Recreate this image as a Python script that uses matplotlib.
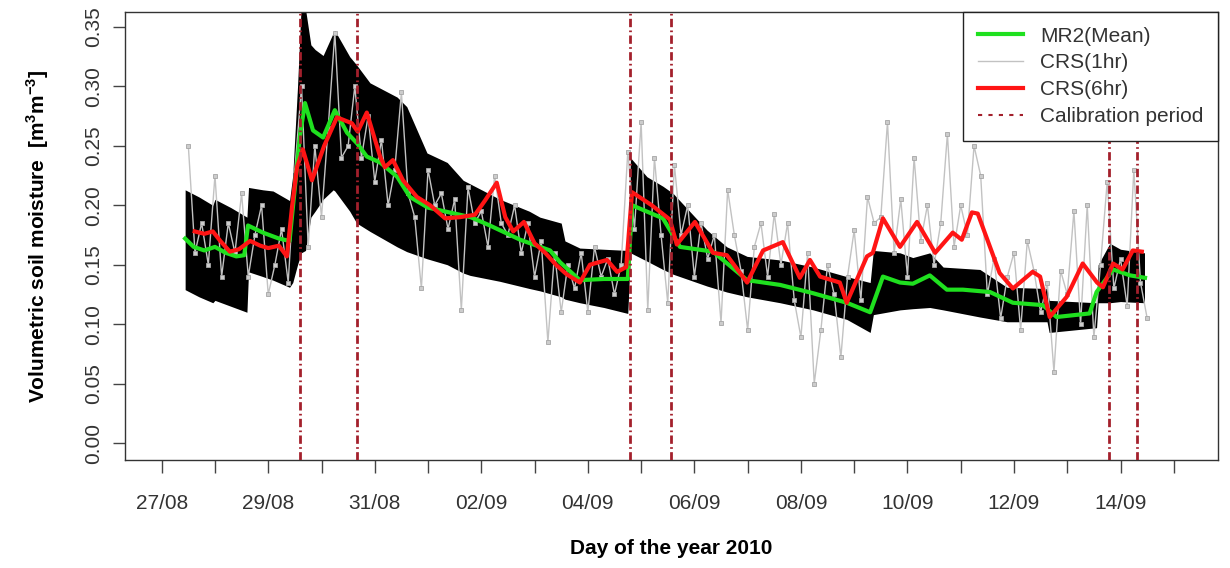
import numpy as np
import matplotlib
matplotlib.use("Agg")
import matplotlib.pyplot as plt
from matplotlib.lines import Line2D

plt.rcParams['font.family'] = ['Liberation Sans', 'DejaVu Sans']
plt.rcParams['mathtext.fontset'] = 'custom'
plt.rcParams['mathtext.rm'] = 'Liberation Sans'
plt.rcParams['mathtext.bf'] = 'Liberation Sans:bold'

# x values are days since 27/08/2010 00:00
tick_days = list(range(20))
tick_labels = ['27/08', '', '29/08', '', '31/08', '', '02/09', '', '04/09', '',
               '06/09', '', '08/09', '', '10/09', '', '12/09', '', '14/09', '']
y_ticks = [0.00, 0.05, 0.10, 0.15, 0.20, 0.25, 0.30, 0.35]

calib_days = [2.60, 3.66, 8.79, 9.57, 17.78, 18.30]

# MR2 sensor range (black band), jumps where a new sensor set starts
band_days = [0.44, 0.70, 0.96, 1.00, 1.30, 1.60,
             1.63, 1.90, 2.09, 2.40, 2.46, 2.55, 2.62, 2.70, 2.80, 2.88, 3.03, 3.22, 3.25,
             3.53, 3.66, 3.91, 4.42, 4.60, 4.98, 5.36, 5.66, 5.79, 6.35, 6.90, 7.10, 7.50,
             7.57, 7.85, 8.30, 8.75,
             8.80, 9.11, 9.41, 9.60, 10.24, 10.61, 10.99, 11.61, 12.23, 12.86, 13.30,
             13.36, 13.86, 14.10, 14.42, 14.67, 15.36, 15.87, 16.62,
             16.66, 17.55,
             17.58, 17.80, 18.00, 18.45]
band_hi = [0.213, 0.207, 0.200, 0.205, 0.198, 0.190,
           0.215, 0.213, 0.212, 0.204, 0.225, 0.300, 0.370, 0.365, 0.335, 0.331, 0.326, 0.345, 0.347,
           0.325, 0.318, 0.303, 0.291, 0.283, 0.244, 0.236, 0.221, 0.218, 0.205, 0.195, 0.190, 0.185,
           0.170, 0.164, 0.163, 0.162,
           0.240, 0.224, 0.216, 0.210, 0.179, 0.165, 0.157, 0.154, 0.148, 0.140, 0.135,
           0.162, 0.160, 0.156, 0.160, 0.148, 0.146, 0.131, 0.130,
           0.120, 0.118,
           0.150, 0.168, 0.163, 0.160]
band_lo = [0.129, 0.123, 0.118, 0.120, 0.115, 0.110,
           0.144, 0.140, 0.137, 0.131, 0.135, 0.150, 0.160, 0.162, 0.190, 0.195, 0.205, 0.213, 0.212,
           0.195, 0.185, 0.178, 0.165, 0.161, 0.155, 0.150, 0.143, 0.141, 0.136, 0.130, 0.128, 0.123,
           0.121, 0.118, 0.114, 0.109,
           0.160, 0.153, 0.146, 0.142, 0.132, 0.127, 0.123, 0.118, 0.112, 0.104, 0.093,
           0.108, 0.112, 0.113, 0.114, 0.112, 0.106, 0.102, 0.102,
           0.093, 0.097,
           0.118, 0.118, 0.119, 0.118]

# MR2 mean
mean_days = [0.44, 0.60, 0.80, 1.00, 1.20, 1.40, 1.55, 1.62, 1.90, 2.20, 2.40, 2.50, 2.60,
             2.69, 2.84, 3.03, 3.25, 3.48, 3.67, 3.85, 4.10, 4.42, 4.66, 5.00, 5.30, 5.80,
             6.16, 6.73, 7.29, 7.48, 7.85, 8.30, 8.75, 8.83, 9.41, 9.73, 10.35, 10.99, 11.61,
             12.23, 12.86, 13.30, 13.54, 13.86, 14.10, 14.42, 14.74, 15.04, 15.55, 15.98,
             16.54, 16.80, 17.42, 17.55, 17.86, 18.18, 18.46]
mean_vals = [0.172, 0.165, 0.162, 0.165, 0.160, 0.157, 0.158, 0.183, 0.177, 0.172, 0.170, 0.215, 0.260,
             0.286, 0.263, 0.257, 0.280, 0.261, 0.252, 0.241, 0.236, 0.224, 0.207, 0.198, 0.195, 0.190,
             0.183, 0.171, 0.162, 0.152, 0.137, 0.138, 0.138, 0.200, 0.189, 0.165, 0.161, 0.137, 0.133,
             0.126, 0.118, 0.110, 0.140, 0.135, 0.134, 0.141, 0.129, 0.129, 0.127, 0.118,
             0.116, 0.106, 0.109, 0.127, 0.146, 0.141, 0.139]

# CRS 6 hour
crs6_days = [0.62, 0.80, 0.96, 1.10, 1.28, 1.45, 1.66, 1.85, 2.00, 2.20, 2.35, 2.45, 2.54,
             2.65, 2.82, 3.05, 3.29, 3.57, 3.68, 3.85, 4.10, 4.19, 4.34, 4.53, 4.79, 5.04,
             5.32, 5.60, 5.88, 6.07, 6.29, 6.45, 6.60, 6.80, 7.00, 7.20, 7.40, 7.60, 7.85,
             8.04, 8.36, 8.55, 8.72, 8.83, 9.20, 9.54, 9.67, 10.01, 10.35, 10.61, 10.99,
             11.29, 11.66, 11.98, 12.17, 12.36, 12.73, 12.86, 13.24, 13.35, 13.54, 13.86,
             14.18, 14.52, 14.85, 15.02, 15.21, 15.32, 15.73, 15.98, 16.35, 16.49, 16.67,
             16.99, 17.29, 17.56, 17.67, 17.86, 18.04, 18.23, 18.40]
crs6_vals = [0.178, 0.176, 0.178, 0.170, 0.161, 0.163, 0.170, 0.166, 0.164, 0.166, 0.157, 0.200, 0.232,
             0.247, 0.221, 0.250, 0.274, 0.269, 0.262, 0.278, 0.241, 0.232, 0.238, 0.221, 0.207, 0.200,
             0.189, 0.190, 0.192, 0.204, 0.219, 0.190, 0.178, 0.186, 0.168, 0.160, 0.150, 0.142, 0.135,
             0.150, 0.154, 0.144, 0.148, 0.211, 0.200, 0.188, 0.167, 0.186, 0.160, 0.158, 0.135,
             0.162, 0.169, 0.139, 0.154, 0.140, 0.135, 0.118, 0.157, 0.160, 0.189, 0.165,
             0.186, 0.160, 0.177, 0.171, 0.194, 0.193, 0.143, 0.130, 0.144, 0.140, 0.106,
             0.123, 0.151, 0.135, 0.131, 0.151, 0.146, 0.162, 0.161]

# CRS 1 hour, read every 3 h from 27/08 12:00
grey_start = 0.5
grey_step = 0.125
grey_vals = [0.250, 0.160, 0.185, 0.150, 0.225, 0.140, 0.185, 0.160,
             0.210, 0.140, 0.175, 0.200, 0.125, 0.150, 0.180, 0.135,
             0.230, 0.300, 0.165, 0.250, 0.190, 0.265, 0.345, 0.240,
             0.250, 0.300, 0.240, 0.275, 0.220, 0.255, 0.200, 0.230,
             0.295, 0.210, 0.190, 0.130, 0.230, 0.200, 0.210, 0.180,
             0.205, 0.112, 0.215, 0.185, 0.195, 0.165, 0.225, 0.185,
             0.175, 0.200, 0.160, 0.185, 0.140, 0.170, 0.085, 0.160,
             0.110, 0.150, 0.130, 0.160, 0.110, 0.165, 0.140, 0.155,
             0.125, 0.150, 0.245, 0.180, 0.270, 0.112, 0.240, 0.175,
             0.118, 0.234, 0.175, 0.200, 0.140, 0.185, 0.155, 0.175,
             0.101, 0.213, 0.175, 0.145, 0.095, 0.165, 0.185, 0.140,
             0.193, 0.150, 0.185, 0.120, 0.089, 0.160, 0.050, 0.095,
             0.150, 0.125, 0.072, 0.140, 0.179, 0.120, 0.207, 0.185,
             0.190, 0.270, 0.160, 0.205, 0.140, 0.240, 0.170, 0.200,
             0.150, 0.185, 0.260, 0.165, 0.200, 0.175, 0.250, 0.225,
             0.125, 0.155, 0.105, 0.140, 0.160, 0.095, 0.170, 0.145,
             0.110, 0.135, 0.060, 0.145, 0.125, 0.195, 0.100, 0.200,
             0.089, 0.150, 0.220, 0.130, 0.155, 0.115, 0.230, 0.135,
             0.105]
grey_days = grey_start + grey_step * np.arange(len(grey_vals))

calib_color = '#a3202c'

fig = plt.figure(figsize=(12.3, 5.68), dpi=100)
ax = fig.add_axes([125/1230, 1-460/568, (1218-125)/1230, (460-12)/568])

ax.fill_between(band_days, band_lo, band_hi, color='black', lw=0, zorder=1)
ax.plot(grey_days, grey_vals, color='#c2c2c2', lw=1, marker='s', ms=3,
        mfc='#cccccc', mec='#a5a5a5', mew=0.6, zorder=2)
ax.plot(mean_days, mean_vals, color='#1fe01f', lw=3, zorder=3)
ax.plot(crs6_days, crs6_vals, color='#ff1414', lw=3, zorder=4)
for d in calib_days:
    ax.axvline(d, color=calib_color, lw=2, linestyle=(0, (3, 1.2, 0.6, 1.2)), zorder=5)

ax.set_xlim(-0.689, 19.83)
ax.set_ylim(-0.0143, 0.3626)
ax.set_xticks(tick_days)
ax.set_xticklabels(tick_labels)
ax.set_yticks(y_ticks)
ax.set_yticklabels(['%.2f' % v for v in y_ticks])

for s in ax.spines.values():
    s.set_color('#333333')
    s.set_linewidth(1)
ax.tick_params(axis='x', length=9.4, width=1, color='#444444', pad=15,
               labelsize=15, labelcolor='#333333')
ax.tick_params(axis='y', length=8.6, width=1, color='#444444', pad=7,
               labelsize=15, labelcolor='#333333', labelrotation=90)
for lbl in ax.get_yticklabels():
    lbl.set_va('center')

fig.text(671/1230, 1-549/568, 'Day of the year 2010', ha='center', va='center',
         fontsize=15, fontweight='bold')
fig.text(38/1230, 1-236/568, r'Volumetric soil moisture  [m$^{\mathbf{3}}$m$^{\mathbf{-3}}$]',
         ha='center', va='center', rotation=90, fontsize=15, fontweight='bold')

handles = [Line2D([], [], color='#1fe01f', lw=3),
           Line2D([], [], color='#c2c2c2', lw=1),
           Line2D([], [], color='#ff1414', lw=3),
           Line2D([], [], color=calib_color, lw=1.5, linestyle=(0, (2, 3)))]
names = ['MR2(Mean)', 'CRS(1hr)', 'CRS(6hr)', 'Calibration period']
leg = ax.legend(handles, names, loc='upper right', borderaxespad=0, fontsize=15,
                fancybox=False, framealpha=1, edgecolor='#222222', handlelength=2.2,
                handletextpad=0.8, borderpad=0.7, labelspacing=0.38, labelcolor='#333333')
leg.get_frame().set_linewidth(1)
leg.set_zorder(10)

fig.savefig('out.png', dpi=100)
